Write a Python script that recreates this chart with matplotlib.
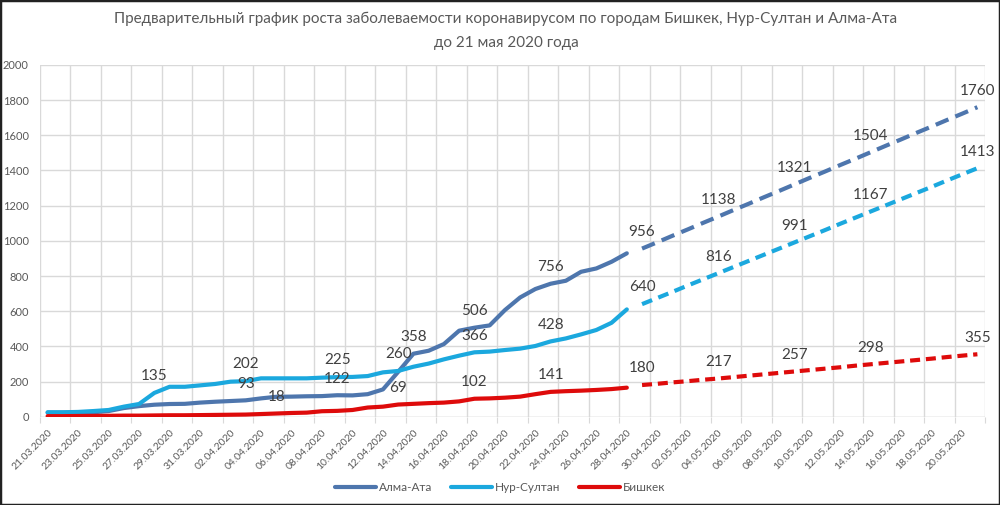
import pandas as pd
import matplotlib
matplotlib.use('Agg')
import matplotlib.pyplot as plt
from matplotlib.patches import Rectangle

plt.rcParams['font.family'] = ['Lato', 'DejaVu Sans']

# Dates 21.03.2020 .. 21.05.2020, one category per day
dates = pd.date_range('2020-03-21', '2020-05-21', freq='D')
date_labels = [d.strftime('%d.%m.%Y') for d in dates]

# Observed values, 21.03 .. 28.04
almaty = [23, 23, 24, 25, 32, 49, 60, 68, 72, 73, 80, 85, 89, 93, 104, 113, 114, 116, 117, 122,
          121, 128, 155, 255, 358, 375, 413, 489, 506, 519, 606, 678, 726, 756, 773, 824, 843, 881, 929]
nursultan = [25, 25, 27, 32, 38, 57, 72, 135, 170, 170, 178, 186, 199, 202, 218, 218, 218, 218, 222, 225,
             226, 231, 252, 260, 284, 302, 326, 347, 366, 370, 379, 387, 402, 428, 445, 468, 493, 534, 610]
bishkek = [3, 3, 4, 4, 5, 6, 6, 7, 8, 8, 9, 10, 11, 12, 15, 18, 21, 23, 31, 33,
           38, 52, 57, 69, 73, 77, 80, 87, 102, 104, 108, 114, 128, 141, 145, 148, 152, 157, 165]

# Forecast values, 29.04 .. 21.05
almaty_fc = [956, 992, 1029, 1065, 1102, 1138, 1175, 1211, 1248, 1284, 1321, 1358, 1394, 1431, 1467,
             1504, 1541, 1577, 1614, 1650, 1687, 1723, 1760]
nursultan_fc = [640, 675, 710, 746, 781, 816, 851, 886, 921, 956, 991, 1026, 1061, 1097, 1132,
                1167, 1202, 1237, 1272, 1307, 1343, 1378, 1413]
bishkek_fc = [180, 187, 195, 202, 210, 217, 225, 233, 241, 249, 257, 265, 273, 281, 290,
              298, 306, 314, 322, 330, 339, 347, 355]

# which days carry a data label
almaty_lbl = [13, 19, 24, 28, 33, 39, 44, 49, 54, 61]
nursultan_lbl = [7, 13, 19, 23, 28, 33, 39, 44, 49, 54, 61]
bishkek_lbl = [15, 23, 28, 33, 39, 44, 49, 54, 61]

series = [
    ('Алма-Ата', almaty, almaty_fc, almaty_lbl, '#4e76ad', (3.3, 1.8)),
    ('Нур-Султан', nursultan, nursultan_fc, nursultan_lbl, '#1ba8de', (2.6, 1.6)),
    ('Бишкек', bishkek, bishkek_fc, bishkek_lbl, '#de0b0b', (2.4, 1.4)),
]

fig = plt.figure(figsize=(10, 5.05), dpi=100)
ax = fig.add_axes([0.04, 0.1749, 0.945, 0.6964])

n_obs = len(almaty)
x_obs = list(range(n_obs))
x_fc = list(range(n_obs, n_obs + len(almaty_fc)))

for name, obs, fc, lbl, color, dash in series:
    ax.plot(x_obs, obs, color=color, lw=3, label=name, solid_capstyle='round', zorder=3)
    ax.plot(x_fc, fc, color=color, lw=3, dashes=dash, dash_capstyle='butt', zorder=3)
    full = obs + fc
    for i in lbl:
        ax.annotate(str(full[i]), (i, full[i]), xytext=(0, 12), textcoords='offset points',
                    ha='center', va='center', fontsize=11, color='#404040', zorder=4)

ax.set_xlim(-0.5, len(dates) - 0.5)
ax.set_ylim(0, 2000)
ax.set_yticks(range(0, 2001, 200))

# gridlines at category boundaries, labels at every second day
ax.set_xticks([k - 0.5 for k in range(0, len(dates) + 1, 2)])
ax.set_xticklabels([])
ax.set_xticks(list(range(0, len(dates) - 1, 2)), minor=True)
ax.set_xticklabels(date_labels[0:len(dates) - 1:2], minor=True, rotation=45,
                   ha='right', va='top', rotation_mode='anchor')
ax.tick_params(axis='x', which='major', length=4, color='#d9d9d9')
ax.tick_params(axis='x', which='minor', length=0, pad=8, labelsize=7.5, labelcolor='#595959')
ax.tick_params(axis='y', length=0, pad=8, labelsize=8, labelcolor='#595959')

ax.grid(True, which='major', color='#d9d9d9', lw=1)
ax.set_axisbelow(True)
for s in ax.spines.values():
    s.set_visible(False)
ax.axhline(0, color='#d9d9d9', lw=1, zorder=1)

fig.text(0.506, 0.963, 'Предварительный график роста заболеваемости коронавирусом по городам Бишкек, Нур-Султан и Алма-Ата',
         ha='center', va='center', fontsize=11, color='#595959')
fig.text(0.506, 0.915, 'до 21 мая 2020 года', ha='center', va='center', fontsize=11, color='#595959')

leg = fig.legend(loc='center', bbox_to_anchor=(0.5, 0.035), ncol=3, frameon=False,
                 fontsize=8.5, handlelength=3.5, handletextpad=0.2, columnspacing=1.6)
for t in leg.get_texts():
    t.set_color('#595959')

fig.add_artist(Rectangle((0, 0), 1, 1, transform=fig.transFigure, fill=False,
                         edgecolor='#222222', lw=2.5))

fig.savefig('out.png', dpi=100)
